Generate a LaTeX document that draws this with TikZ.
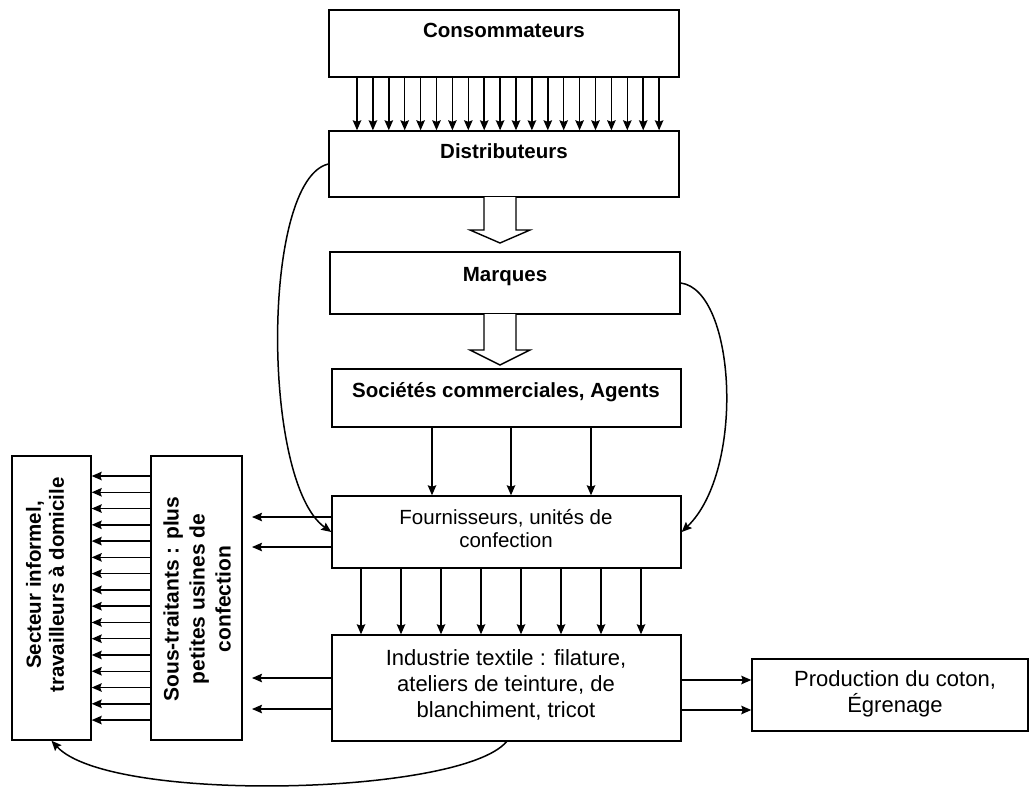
\documentclass[tikz,border=0pt]{standalone}
\usepackage{fontspec}
\setmainfont{Liberation Sans}
\usetikzlibrary{arrows.meta}
\begin{document}
\begin{tikzpicture}[x=1pt,y=-1pt,
  box/.style={draw, line width=1.4pt, inner sep=0pt},
  boldtxt/.style={font=\fontsize{20.5}{23}\selectfont\bfseries, inner sep=0pt},
  plaintxt/.style={font=\fontsize{20.5}{23}\selectfont, align=center, inner sep=0pt},
  widetxt/.style={font=\fontsize{22}{26}\selectfont, align=center, inner sep=0pt},
  sidetxt/.style={font=\fontsize{20.5}{23}\selectfont\bfseries, align=center, inner sep=0pt, rotate=90},
  arr/.style={line width=1.5pt, -{Stealth[length=10pt,width=8.5pt,inset=1.5pt]}},
  hollow/.style={draw, line width=1.4pt, fill=white, line join=miter}]
\useasboundingbox (0,0) rectangle (1033,788);

% main chain of boxes
\node[box, minimum width=350pt, minimum height=67pt] (cons) at (504,43.5) {};
\node[box, minimum width=350pt, minimum height=66pt] (dist) at (504,164) {};
\node[box, minimum width=350pt, minimum height=62pt] (marq) at (505,283) {};
\node[box, minimum width=349pt, minimum height=58pt] (soc)  at (506.5,398) {};
\node[box, minimum width=349pt, minimum height=72pt] (four) at (506.5,532) {};
\node[box, minimum width=349pt, minimum height=106pt] (ind) at (506.5,688) {};
\node[box, minimum width=276pt, minimum height=72pt] (prod) at (890,695) {};
\node[box, minimum width=79pt, minimum height=284pt] (sect) at (51.5,598) {};
\node[box, minimum width=91pt, minimum height=284pt] (sous) at (196.5,598) {};

% labels
\node[boldtxt, anchor=base] (consT) at (504,37) {Consommateurs};
\node[boldtxt, anchor=base] (distT) at (504,158) {Distributeurs};
\node[boldtxt, anchor=base] (marqT) at (505,281) {Marques};
\node[boldtxt, anchor=base] (socT)  at (506,397) {Sociétés commerciales, Agents};
\node[plaintxt] (fourT) at (506,529) {Fournisseurs, unités de\\confection};
\node[widetxt] (indT) at (506,685) {Industrie textile : filature,\\ateliers de teinture, de\\blanchiment, tricot};
\node[widetxt] (prodT) at (895,694) {Production du coton,\\Égrenage};
\node[sidetxt] (sectT) at (45,585) {Secteur informel,\\travailleurs à domicile};
\node[sidetxt, font=\fontsize{21}{26}\selectfont\bfseries] (sousT) at (197,599) {Sous-traitants : plus\\petites usines de\\confection};

% consumers to distributors
\foreach \i in {0,...,19} {
  \path (357+15.9*\i,0) coordinate (cx);
  \draw[arr] (cons.south -| cx) -- (dist.north -| cx);
}

% hollow block arrows
\draw[hollow] (484,197) -- (484,230) -- (470,230) -- (500,243) -- (530,230) -- (516,230) -- (516,197);
\draw[hollow] (484,314) -- (484,350) -- (470,350) -- (500,365) -- (530,350) -- (516,350) -- (516,314);

% trading companies to suppliers
\foreach \x in {432,511,591} {
  \path (\x,0) coordinate (sx);
  \draw[arr] (soc.south -| sx) -- (four.north -| sx);
}

% suppliers to textile industry
\foreach \i in {0,...,7} {
  \path (361+40*\i,0) coordinate (fx);
  \draw[arr] (four.south -| fx) -- (ind.north -| fx);
}

% subcontractors to informal sector
\foreach \i in {0,...,15} {
  \path (0,476+16.27*\i) coordinate (ty);
  \draw[arr] (sous.west |- ty) -- (sect.east |- ty);
}

% leftward arrows towards the subcontractors
\coordinate (lft) at (252,0);
\foreach \y in {517,547} {
  \path (0,\y) coordinate (ly);
  \draw[arr] (four.west |- ly) -- (lft |- ly);
}
\foreach \y in {678,709} {
  \path (0,\y) coordinate (ly);
  \draw[arr] (ind.west |- ly) -- (lft |- ly);
}

% textile industry to cotton production
\foreach \y in {680,710} {
  \path (0,\y) coordinate (ry);
  \draw[arr] (ind.east |- ry) -- (prod.west |- ry);
}

% curved links
\draw[arr] (dist.west) .. controls +(-67,16) and +(-70,-50) .. (four.west);
\draw[arr] (marq.east) .. controls +(55,7) and +(64,-62) .. (four.east);
\draw[arr] (ind.south) .. controls +(-46,54) and +(58,63) .. (sect.south);
\end{tikzpicture}
\end{document}
